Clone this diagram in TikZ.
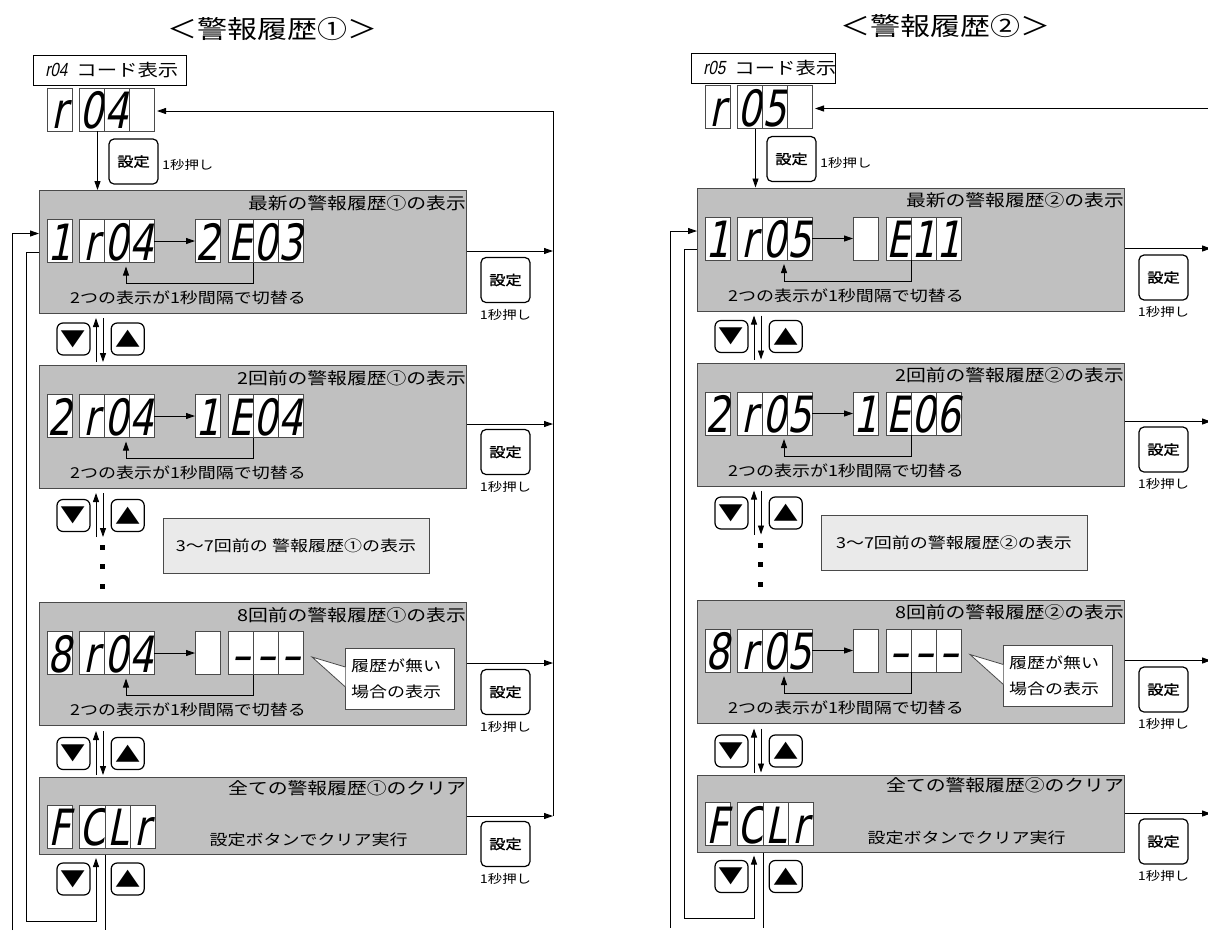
\documentclass[tikz,border=0pt]{standalone}
\usepackage{fontspec}
\setmainfont{Noto Sans CJK JP}[FakeStretch=1.2]
\newfontfamily\segfont{DejaVu Sans}[FakeStretch=0.75,FakeSlant=0.2]
\newfontfamily\codefont{Liberation Sans}[FakeSlant=0.2,FakeStretch=0.8]
\newfontfamily\keyfont{Noto Sans CJK JP}[FakeStretch=1.2,FakeBold=1.5]
\usetikzlibrary{arrows.meta,positioning}
\definecolor{bandgray}{HTML}{C0C0C0}
\definecolor{notegray}{HTML}{EAEAEA}
\definecolor{edgegray}{HTML}{4A4A4A}

% one row: code display -> alarm display, with the 1 s toggle bracket
\newcommand\digitrow[9]{%
  \node[segcell] (#1-1) at (#1) {#2};
  \node[segcell,right=7pt of #1-1] (#1-2) {#3};
  \node[segcell,right=0pt of #1-2] (#1-3) {#4};
  \node[segcell,right=0pt of #1-3] (#1-4) {#5};
  \node[segcell,right=41pt of #1-4] (#1-5) {#6};
  \node[segcell,right=8pt of #1-5] (#1-6) {#7};
  \node[segcell,right=0pt of #1-6] (#1-7) {#8};
  \node[segcell,right=0pt of #1-7] (#1-8) {#9};
  \draw[arr] (#1-4) -- (#1-5);
  \draw[arr] (#1-6.south east) -- ++(0,-21)
       -| ([xshift=-3pt,yshift=-4pt]#1-3.south east);
  \node[bodytxt] at ([xshift=128.5pt,yshift=-57pt]#1) {2つの表示が1秒間隔で切替る};
}

\begin{document}
\begin{tikzpicture}[x=1pt,y=1pt,
  segcell/.style={draw=edgegray,fill=white,line width=0.8pt,outer sep=0pt,inner sep=0pt,
                  minimum width=25pt,minimum height=43pt,text height=38pt,text depth=0pt,
                  font=\segfont\fontsize{50}{50}\selectfont},
  grayband/.style={draw=edgegray,fill=bandgray,line width=1pt,anchor=north west,
                   minimum width=427pt,inner sep=0pt},
  bandtitle/.style={anchor=east,inner sep=1pt,font=\fontsize{16.5}{18}\selectfont},
  maintitle/.style={inner sep=0pt,font=\fontsize{25}{27}\selectfont},
  codebox/.style={draw,line width=0.8pt,anchor=north west,minimum height=30pt,
                  inner xsep=12pt,inner ysep=0pt,
                  font=\fontsize{17}{19}\selectfont},
  bodytxt/.style={inner sep=0pt,font=\fontsize{15}{17}\selectfont},
  holdtxt/.style={inner sep=0pt,font=\fontsize{12}{14}\selectfont},
  notebox/.style={draw=edgegray,fill=notegray,line width=0.8pt,minimum width=266pt,
                  minimum height=55pt,font=\fontsize{15}{17}\selectfont},
  callnote/.style={draw=edgegray,fill=white,line width=0.8pt,
                   text width=97pt,inner xsep=6pt,minimum height=61pt,align=left,
                   font=\fontsize{15}{26}\selectfont},
  setkey/.style={draw,fill=white,line width=1.2pt,rounded corners=5pt,
                 minimum width=49pt,minimum height=45pt,inner sep=0pt,
                 font=\keyfont\fontsize{13.5}{14}\selectfont},
  arrowkey/.style={draw,fill=white,line width=1.2pt,rounded corners=6pt,
                   minimum width=33pt,minimum height=32pt,inner sep=0pt,
                   font=\fontsize{21}{21}\selectfont},
  arr/.style={-{Triangle[length=9pt,width=6pt]},line width=0.9pt},
  wire/.style={line width=0.9pt}
]
\useasboundingbox (0,0) rectangle (1208,-930);
\foreach \sx/\sy/\cn/\cd/\tx/\tw/\ba/\bc/\bd/\ce/\midtxt in
  {0/0/①/4/272/129/2/0/3/4/{3～7回前の 警報履歴①の表示},
   658/2.5/②/5/287/120/{}/1/1/6/{3～7回前の警報履歴②の表示}}{
\begin{scope}[shift={(\sx,\sy)}]
  % heading and code display
  \node[maintitle] (head) at (\tx,-28.5) {＜警報履歴\cn{}＞};
  \node[codebox] (code) at (33,-55)
       {\makebox[\tw pt][l]{{\codefont\fontsize{19}{19}\selectfont r0\cd}\hspace{9pt}コード表示}};
  \node[segcell] (d1) at (59.5,-109.5) {r};
  \node[segcell,right=7pt of d1] (d2) {0};
  \node[segcell,right=0pt of d2] (d3) {\cd};
  \node[segcell,right=0pt of d3] (d4) {};
  \node[setkey] (k0) at (133.5,-161.5) {設定};
  \node[holdtxt,anchor=west] at (162,-165) {1秒押し};

  % gray display panels
  \node[grayband,minimum height=123pt] (p1) at (39,-190) {};
  \node[grayband,minimum height=123pt] (p2) at (39,-365) {};
  \node[grayband,minimum height=123pt] (p3) at (39,-602) {};
  \node[grayband,minimum height=77pt]  (p4) at (39,-777) {};
  \node[bandtitle] at ([yshift=-13pt]p1.north east) {最新の警報履歴\cn{}の表示};
  \node[bandtitle] at ([yshift=-13pt]p2.north east) {2回前の警報履歴\cn{}の表示};
  \node[bandtitle] at ([yshift=-13pt]p3.north east) {8回前の警報履歴\cn{}の表示};
  \node[bandtitle] at ([yshift=-11pt]p4.north east) {全ての警報履歴\cn{}のクリア};

  \coordinate (r1) at (59.5,-241);
  \digitrow{r1}{1}{r}{0}{\cd}{\ba}{E}{\bc}{\bd}
  \coordinate (r2) at (59.5,-416);
  \digitrow{r2}{2}{r}{0}{\cd}{1}{E}{0}{\ce}
  \coordinate (r3) at (59.5,-653);
  \digitrow{r3}{8}{r}{0}{\cd}{}{–}{–}{–}
  \node[callnote] (nb) at (399.5,-678.5) {履歴が無い\\場合の表示};
  \coordinate (tip) at (312,-657);
  \draw[draw=edgegray,fill=white,line width=0.8pt]
       ([xshift=0.8pt,yshift=11.5pt]nb.west) -- (tip) -- ([xshift=0.8pt,yshift=-8.5pt]nb.west);

  \node[segcell] (f1) at (59.5,-826.5) {F};
  \node[segcell,right=7pt of f1] (f2) {C};
  \node[segcell,right=0pt of f2] (f3) {L};
  \node[segcell,right=0pt of f3] (f4) {r};
  \node[bodytxt] at (308.5,-840) {設定ボタンでクリア実行};

  % 3-7 placeholder
  \node[notebox] (mid) at (296,-545.5) {\midtxt};
  \foreach \dy in {545,564,584} \fill (99.5,-\dy) rectangle ++(5,-5);

  % up / down keys
  \node[arrowkey] (dn1) at (73.5,-339) {▼};
  \node[arrowkey,right=20pt of dn1] (up1) {▲};
  \node[arrowkey] (dn2) at (73.5,-515.5) {▼};
  \node[arrowkey,right=20pt of dn2] (up2) {▲};
  \node[arrowkey] (dn3) at (73.5,-753.5) {▼};
  \node[arrowkey,right=20pt of dn3] (up3) {▲};
  \node[arrowkey] (dn4) at (73.5,-879) {▼};
  \node[arrowkey,right=20pt of dn4] (up4) {▲};

  % set keys on the right
  \node[setkey] (k1) at (505.5,-280) {設定};
  \node[holdtxt,below=6pt of k1] {1秒押し};
  \node[setkey] (k2) at (505.5,-452) {設定};
  \node[holdtxt,below=6pt of k2] {1秒押し};
  \node[setkey] (k3) at (505.5,-692) {設定};
  \node[holdtxt,below=6pt of k3] {1秒押し};
  \node[setkey] (k4) at (505.5,-844) {設定};
  \node[holdtxt,below=6pt of k4] {1秒押し};

  % return bus to the code display
  \coordinate (bus0) at (553,-111);
  \coordinate (bus1) at (553,-251);
  \coordinate (bus2) at (553,-424);
  \coordinate (bus3) at (553,-663);
  \coordinate (bus4) at (553,-816);
  \draw[wire] (bus4) -- (bus0);
  \draw[arr,shorten >=3pt] (bus0) -- (d4.east |- bus0);
  \draw[arr] (p1.east |- bus1) -- (bus1);
  \draw[arr] (p2.east |- bus2) -- (bus2);
  \draw[arr] (p3.east |- bus3) -- (bus3);
  \draw[arr] (p4.east |- bus4) -- (bus4);

  \coordinate (feed) at (97.5,0);
  \draw[arr] (feed |- d2.south) -- (feed |- p1.north);

  % up / down between panels
  \coordinate (colU) at (96,0);
  \coordinate (colD) at (103,0);
  \coordinate (gap2) at (0,-537);
  \draw[arr,shorten <=3pt,shorten >=4pt] (colU |- p2.north) -- (colU |- p1.south);
  \draw[arr,shorten <=4pt,shorten >=3pt] (colD |- p1.south) -- (colD |- p2.north);
  \draw[arr,shorten >=4pt] (colU |- gap2) -- (colU |- p2.south);
  \draw[arr,shorten <=4pt] (colD |- p2.south) -- (colD |- gap2);
  \draw[arr,shorten <=2pt,shorten >=5pt] (colU |- p4.north) -- (colU |- p3.south);
  \draw[arr,shorten <=5pt,shorten >=2pt] (colD |- p3.south) -- (colD |- p4.north);

  % wrap-around between last and first panel
  \coordinate (loopA) at (12,-930);
  \coordinate (loopB) at (26,-921);
  \coordinate (loopC) at (105,-930);
  \draw[arr] (loopA) |- ([yshift=18.5pt]p1.west);
  \draw[arr,shorten >=3pt] (p1.west) -| (loopB) -| (colU |- p4.south);
  \draw[wire] (p4.south -| loopC) -- (loopC);
\end{scope}
}
\end{tikzpicture}
\end{document}
